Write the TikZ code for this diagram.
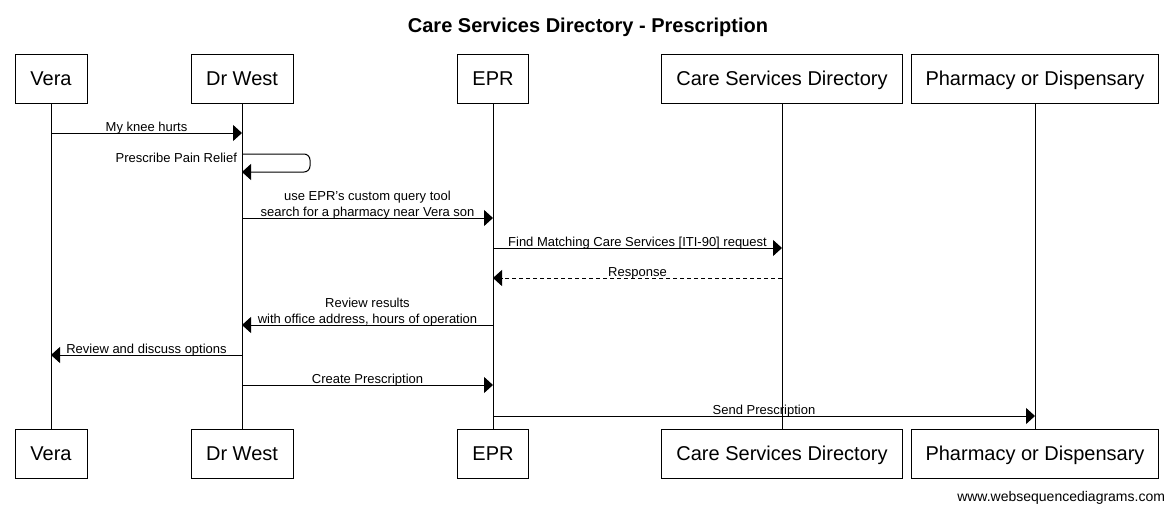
\documentclass[tikz,border=0pt]{standalone}
\usepackage{fontspec}
\setmainfont{Liberation Sans}
\usetikzlibrary{arrows.meta}
\begin{document}
\begin{tikzpicture}[x=1pt,y=-1pt,
  every node/.style={inner sep=0pt,outer sep=0pt},
  actor/.style={draw,line width=1pt,minimum height=49pt,text height=14.3pt,text depth=0pt,font=\fontsize{20}{24}\selectfont},
  life/.style={line width=1pt},
  msg/.style={line width=1pt,-{Triangle[length=9pt,width=16pt]}},
  reply/.style={msg,dash pattern=on 4pt off 3pt},
  lbl/.style={anchor=south,align=center,font=\fontsize{13}{16}\selectfont}]
\useasboundingbox (0,0) rectangle (1174,512);
\node[font=\bfseries\fontsize{20}{24}\selectfont,anchor=base] (title) at (588,32.8) {Care Services Directory - Prescription};
% top actors
\node[actor,minimum width=72pt]  (veraT) at (51,78.5) {Vera};
\node[actor,minimum width=102pt] (drT)   at (242,78.5) {Dr West};
\node[actor,minimum width=71pt]  (eprT)  at (493,78.5) {EPR};
\node[actor,minimum width=241pt] (csdT)  at (782,78.5) {Care Services Directory};
\node[actor,minimum width=247pt] (phT)   at (1035,78.5) {Pharmacy or Dispensary};
% bottom actors
\node[actor,minimum width=72pt]  (veraB) at (51,453.5) {Vera};
\node[actor,minimum width=102pt] (drB)   at (242,453.5) {Dr West};
\node[actor,minimum width=71pt]  (eprB)  at (493,453.5) {EPR};
\node[actor,minimum width=241pt] (csdB)  at (782,453.5) {Care Services Directory};
\node[actor,minimum width=247pt] (phB)   at (1035,453.5) {Pharmacy or Dispensary};
% lifelines
\draw[life] (veraT.south) -- (veraB.north);
\draw[life] (drT.south) -- (drB.north);
\draw[life] (eprT.south) -- (eprB.north);
\draw[life] (csdT.south) -- (csdB.north);
\draw[life] (phT.south) -- (phB.north);
% message rows
\coordinate (m1) at (0,133);
\coordinate (s1) at (0,154);
\coordinate (s2) at (0,172);
\coordinate (m3) at (0,218);
\coordinate (m4) at (0,248);
\coordinate (m5) at (0,278);
\coordinate (m6) at (0,325);
\coordinate (m7) at (0,355);
\coordinate (m8) at (0,385);
\coordinate (m9) at (0,416);
% messages
\draw[msg] (veraT |- m1) -- node[lbl,yshift=-1pt] {My knee hurts} (drT |- m1);
\draw[msg,rounded corners=6pt] (drT |- s1) -- ++(68,0) -- ++(0,18) -- (drT |- s2);
\node[anchor=south east,font=\fontsize{13}{16}\selectfont] (selflbl) at (237,162.7) {Prescribe Pain Relief};
\draw[msg] (drT |- m3) -- node[lbl,yshift=-1pt] {use EPR's custom query tool\\search for a pharmacy near Vera son} (eprT |- m3);
\draw[msg] (eprT |- m4) -- node[lbl,yshift=-1pt] {Find Matching Care Services [ITI-90] request} (csdT |- m4);
\draw[reply] (csdT |- m5) -- node[lbl,yshift=-1pt] {Response} (eprT |- m5);
\draw[msg] (eprT |- m6) -- node[lbl,yshift=-1pt] {Review results\\with office address, hours of operation} (drT |- m6);
\draw[msg] (drT |- m7) -- node[lbl,yshift=-1pt] {Review and discuss options} (veraT |- m7);
\draw[msg] (drT |- m8) -- node[lbl,yshift=-1pt] {Create Prescription} (eprT |- m8);
\draw[msg] (eprT |- m9) -- node[lbl,yshift=-1pt] {Send Prescription} (phT |- m9);
% watermark
\node[anchor=base east,font=\fontsize{14}{16}\selectfont] (wm) at (1165,501.7) {www.websequencediagrams.com};
\end{tikzpicture}
\end{document}
